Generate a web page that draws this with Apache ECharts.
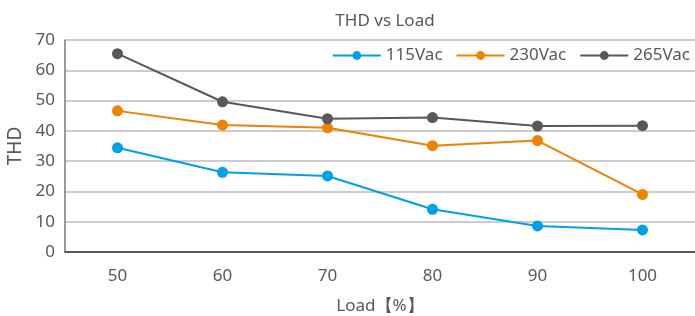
<!DOCTYPE html>
<html>
<head>
<meta charset="utf-8">
<script src="https://cdn.jsdelivr.net/npm/echarts@6/dist/echarts.min.js"></script>
<style>
  html, body { margin: 0; padding: 0; background: #fff; }
  #chart { width: 695px; height: 316px; }
</style>
</head>
<body>
<div id="chart"></div>
<script>
const loads = ['50', '60', '70', '80', '90', '100'];
const thd115 = [34.4, 26.3, 25.1, 14.1, 8.6, 7.3];
const thd230 = [46.6, 41.9, 41.0, 35.1, 36.8, 19.0];
const thd265 = [65.5, 49.6, 44.0, 44.4, 41.6, 41.7];

const textColor = '#595757';
const font = 'Noto Sans';

const chart = echarts.init(document.getElementById('chart'));

const lineSeries = (name, data, color) => ({
    name: name,
    type: 'line',
    data: data,
    symbol: 'circle',
    symbolSize: 11,
    itemStyle: { color: color },
    lineStyle: { color: color, width: 2 }
});

chart.setOption({
    animation: false,
    title: {
        text: 'THD vs Load',
        left: 380,
        textAlign: 'center',
        top: 8,
        textStyle: { color: textColor, fontSize: 17, fontWeight: 'normal', fontFamily: font }
    },
    legend: {
        right: 0,
        top: 42,
        itemWidth: 48,
        itemHeight: 11,
        itemGap: 13,
        textStyle: { color: textColor, fontSize: 17, fontFamily: font },
        data: ['115Vac', '230Vac', '265Vac']
    },
    grid: { left: 65, right: 0, top: 40, bottom: 64, outerBoundsMode: 'none', containLabel: false },
    xAxis: {
        type: 'category',
        data: loads,
        name: 'Load【%】',
        nameLocation: 'middle',
        nameGap: 46,
        nameTextStyle: { color: textColor, fontSize: 17, fontFamily: font },
        axisLine: { lineStyle: { color: '#333', width: 1.5 } },
        axisTick: { show: false },
        axisLabel: { color: textColor, fontSize: 17, fontFamily: font, margin: 16 }
    },
    yAxis: {
        type: 'value',
        min: 0,
        max: 70,
        interval: 10,
        name: 'THD',
        nameLocation: 'middle',
        nameGap: 36,
        nameTextStyle: { color: textColor, fontSize: 19, fontFamily: font },
        axisLine: { show: true, lineStyle: { color: '#777', width: 1.5 } },
        axisTick: { show: false },
        axisLabel: { color: textColor, fontSize: 17, fontFamily: font, margin: 10 },
        splitLine: { lineStyle: { color: '#bbb', width: 1.5 } }
    },
    series: [
        lineSeries('115Vac', thd115, '#00a0e9'),
        lineSeries('230Vac', thd230, '#ef8200'),
        lineSeries('265Vac', thd265, '#595757')
    ]
});
</script>
</body>
</html>
